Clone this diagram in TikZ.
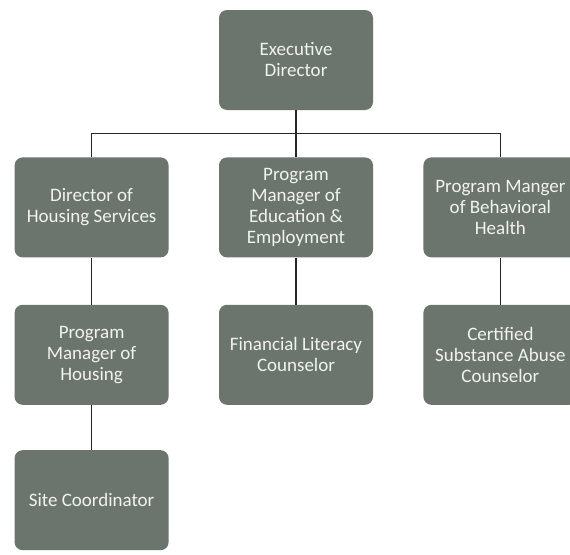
\documentclass[tikz,border=0pt]{standalone}
\usepackage{fontspec}
\setmainfont{Carlito}
\usepackage{xcolor}
\usetikzlibrary{positioning}
\definecolor{boxgrey}{HTML}{6B756E}
\definecolor{boxtext}{HTML}{F2F2EE}

\begin{document}
\begin{tikzpicture}
		[x=1pt,y=1pt,
		post/.style={rectangle,rounded corners=8pt,fill=boxgrey,text=boxtext,align=center,inner sep=0pt,
			minimum width=154pt,minimum height=100pt,font=\fontsize{19}{21}\selectfont},
		link/.style={draw=black!85,line width=1.5pt}]
		\useasboundingbox (0,0) rectangle (570,-554);
		\node [post] (exec) at (296,-60) {Executive\\Director};
		\node [post] (pme) [below=47pt of exec] {Program\\Manager of\\Education \&\\Employment};
		\node [post] (dhs) [left=50pt of pme] {Director of\\Housing Services};
		\node [post] (pmbh) [right=50pt of pme] {Program Manger\\of Behavioral\\Health};

		\node [post] (pmh) [below=47pt of dhs] {Program\\Manager of\\Housing};
		\node [post] (flc) [below=47pt of pme] {Financial Literacy\\Counselor};
		\node [post] (csac) [below=47pt of pmbh] {Certified\\Substance Abuse\\Counselor};

		\node [post] (sc) [below=45pt of pmh] {Site Coordinator};

		\coordinate [below=23.5pt of exec.south] (bar);
		\draw [link] (exec) -- (pme);
		\draw [link] (dhs.north) |- (bar) -| (pmbh.north);
		\draw [link] (dhs) -- (pmh);
		\draw [link] (pmh) -- (sc);
		\draw [link] (pme) -- (flc);
		\draw [link] (pmbh) -- (csac);

	\end{tikzpicture}
\end{document}
